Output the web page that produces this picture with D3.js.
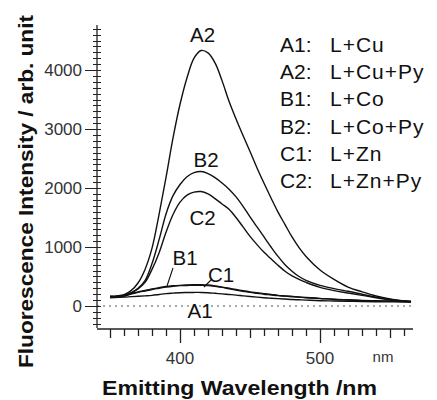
<!DOCTYPE html>
<html><head><meta charset="utf-8">
<script src="https://cdn.jsdelivr.net/npm/d3@7"></script>
<style>body{margin:0;background:#fff}svg{display:block}</style>
</head><body>
<script>
const wavelengths = [350,360,365,370,375,380,385,390,395,400,405,410,415,420,425,430,435,440,445,450,455,460,465,470,475,480,485,490,500,510,520,530,540,550,560,565];
const A2 = [160,190,260,390,620,980,1550,2180,2850,3420,3870,4200,4330,4290,4120,3820,3470,3170,2890,2620,2340,2080,1830,1590,1380,1170,990,840,610,450,320,240,170,120,85,75];
const B2 = [160,170,225,300,430,720,1120,1560,1870,2060,2190,2260,2280,2245,2175,2085,1980,1850,1690,1510,1340,1170,1000,840,700,590,500,435,350,295,250,200,150,110,85,75];
const C2 = [160,170,220,290,400,620,900,1250,1550,1760,1880,1930,1940,1900,1820,1730,1640,1500,1340,1180,1040,910,800,690,590,510,450,400,315,260,220,180,140,105,80,72];
const B1 = [160,180,210,240,265,290,310,330,342,350,356,360,360,355,340,320,300,280,260,240,225,210,195,180,170,160,152,145,130,115,105,95,90,85,80,78];
const C1 = [150,170,200,230,255,280,300,320,335,345,348,350,350,345,332,315,292,270,250,230,215,200,188,175,168,160,150,140,125,110,100,90,85,80,75,72];
const A1 = [140,150,158,165,172,180,195,210,218,225,228,230,230,225,215,205,195,185,172,160,150,140,132,125,118,110,105,100,90,85,80,75,72,70,68,68];
const seriesNames = ["A1","A2","B1","B2","C1","C2"];
const legendLabels = ["L+Cu","L+Cu+Py","L+Co","L+Co+Py","L+Zn","L+Zn+Py"];
const yMajorTicks = [0,1000,2000,3000,4000];
const xMajorTicks = [400,500];

const W = 437, H = 400;
const svg = d3.select("body").append("svg").attr("width", W).attr("height", H);
const font = "Arial, 'Liberation Sans', sans-serif";

const x = d3.scaleLinear().domain([340.7, 566.4]).range([97, 413]);
const y = d3.scaleLinear().domain([-373, 4763]).range([328, 25]);

// zero dotted line
svg.append("line").attr("x1", x(340.7)).attr("x2", x(566.4)).attr("y1", y(0)).attr("y2", y(0))
  .attr("stroke", "#555").attr("stroke-width", 1).attr("stroke-dasharray", "2,4");

// Y axis
const yAxisX = x(340.7);
svg.append("line").attr("x1", yAxisX).attr("x2", yAxisX).attr("y1", y(4763)).attr("y2", y(-373))
  .attr("stroke", "#222").attr("stroke-width", 1.3);
const yMinor = d3.range(-300, 4800, 100);
svg.selectAll(".ymin").data(yMinor).enter().append("line")
  .attr("x1", d => yMajorTicks.includes(d) ? yAxisX - 12 : yAxisX - 4)
  .attr("x2", yAxisX + 4)
  .attr("y1", d => Math.round(y(d)) + 0.5).attr("y2", d => Math.round(y(d)) + 0.5)
  .attr("stroke", "#222").attr("stroke-width", 1);
svg.selectAll(".ylab").data(yMajorTicks).enter().append("text")
  .attr("x", yAxisX - 15).attr("y", d => y(d) + 6)
  .attr("text-anchor", "end").attr("font-family", font).attr("font-size", 17).attr("fill", "#333")
  .text(d => d);

// X axis
const xAxisY = 329;
svg.append("line").attr("x1", x(340.7)).attr("x2", x(566.4)).attr("y1", xAxisY).attr("y2", xAxisY)
  .attr("stroke", "#222").attr("stroke-width", 1.3);
const xMinor = d3.range(350, 561, 10);
svg.selectAll(".xmin").data(xMinor).enter().append("line")
  .attr("x1", d => Math.round(x(d)) + 0.5).attr("x2", d => Math.round(x(d)) + 0.5)
  .attr("y1", xAxisY)
  .attr("y2", d => xMajorTicks.includes(d) ? xAxisY + 14 : (d % 50 === 0 ? xAxisY + 9 : xAxisY + 7))
  .attr("stroke", "#222").attr("stroke-width", 1.3);
svg.selectAll(".xlab").data(xMajorTicks).enter().append("text")
  .attr("x", d => x(d)).attr("y", 364)
  .attr("text-anchor", "middle").attr("font-family", font).attr("font-size", 17).attr("fill", "#333")
  .text(d => d);
svg.append("text").attr("x", 383).attr("y", 362).attr("text-anchor", "middle")
  .attr("font-family", font).attr("font-size", 15).attr("fill", "#333").text("nm");

// Axis titles
svg.append("text").attr("x", 102).attr("y", 395)
  .attr("font-family", font).attr("font-size", 19.5).attr("font-weight", "bold").attr("fill", "#111")
  .attr("textLength", 275).attr("lengthAdjust", "spacingAndGlyphs")
  .text("Emitting Wavelength /nm");
svg.append("text").attr("transform", "translate(33,368) rotate(-90)")
  .attr("font-family", font).attr("font-size", 19.5).attr("font-weight", "bold").attr("fill", "#111")
  .attr("textLength", 353).attr("lengthAdjust", "spacingAndGlyphs")
  .text("Fluorescence Intensity / arb. unit");

// Curves
const allSeries = {A1, A2, B1, B2, C1, C2};
const line = d3.line().x((d, i) => x(wavelengths[i])).y(d => y(d)).curve(d3.curveCatmullRom.alpha(0.5));
seriesNames.forEach(n => {
  svg.append("path").datum(allSeries[n]).attr("d", line)
    .attr("fill", "none").attr("stroke", "#111").attr("stroke-width", 1.4);
});

// Curve labels
const curveLabels = [
  {t: "A2", cx: 202.5, by: 41.7},
  {t: "B2", cx: 206, by: 166.7},
  {t: "C2", cx: 202.5, by: 225},
  {t: "B1", cx: 185, by: 265},
  {t: "C1", cx: 221, by: 281.7},
  {t: "A1", cx: 200, by: 318}
];
svg.selectAll(".clab").data(curveLabels).enter().append("text")
  .attr("x", d => d.cx).attr("y", d => d.by).attr("text-anchor", "middle")
  .attr("font-family", font).attr("font-size", 20.5).attr("fill", "#111").text(d => d.t);
// leader lines
svg.append("line").attr("x1", 173).attr("y1", 268).attr("x2", 167).attr("y2", 286).attr("stroke", "#111").attr("stroke-width", 1.1);
svg.append("line").attr("x1", 212).attr("y1", 279).attr("x2", 204).attr("y2", 287).attr("stroke", "#111").attr("stroke-width", 1.1);

// Legend
const legendY0 = 51.7, legendDY = 27.3;
seriesNames.forEach((n, i) => {
  svg.append("text").attr("x", 280).attr("y", legendY0 + i * legendDY)
    .attr("font-family", font).attr("font-size", 21).attr("fill", "#111").text(n + ":");
  svg.append("text").attr("x", 330).attr("y", legendY0 + i * legendDY)
    .attr("font-family", font).attr("font-size", 21).attr("letter-spacing", 1).attr("fill", "#111").text(legendLabels[i]);
});
</script>
</body></html>
